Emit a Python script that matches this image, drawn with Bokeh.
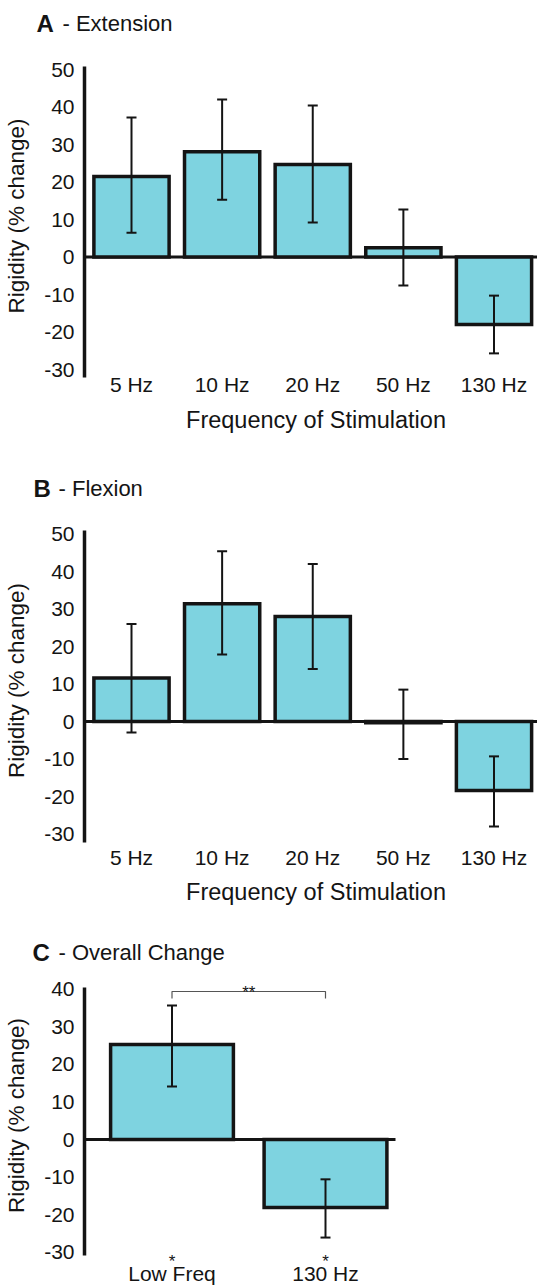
from bokeh.plotting import figure
from bokeh.layouts import column
from bokeh.models import (Range1d, FixedTicker, Whisker, TeeHead, ColumnDataSource,
                          Label, LinearAxis)
from bokeh.embed import file_html
from bokeh.resources import INLINE

# ---------------- data ----------------
freq_labels = ["5 Hz", "10 Hz", "20 Hz", "50 Hz", "130 Hz"]

ext_mean = [21.5, 28.1, 24.7, 2.5, -18.0]
ext_upper = [37.2, 42.0, 40.4, 12.7, -10.3]
ext_lower = [6.5, 15.3, 9.2, -7.6, -25.7]

flex_mean = [11.6, 31.4, 28.0, -0.3, -18.4]
flex_upper = [26.0, 45.4, 42.0, 8.5, -9.3]
flex_lower = [-2.9, 17.9, 14.0, -10.0, -28.0]

overall_labels = ["Low Freq", "130 Hz"]
overall_mean = [25.3, -18.1]
overall_upper = [35.7, -10.6]
overall_lower = [14.1, -26.1]
overall_sig = ["*", "*"]
pair_sig = "**"

y_ticks_ab = [-30, -20, -10, 0, 10, 20, 30, 40, 50]
y_ticks_c = [-30, -20, -10, 0, 10, 20, 30, 40]

panel_titles = [("A", "- Extension"), ("B", "- Flexion"), ("C", "-  Overall Change")]
y_label = "Rigidity (% change)"
x_label = "Frequency of Stimulation"

# ---------------- style ----------------
FONT = "Liberation Sans"
FILL = "#7ed3e0"
INK = "#141414"
W = 537


class Panel:
    """pixel <-> data helper for one stacked panel"""

    def __init__(self, height, x0px, xscale, y0px, yscale):
        self.h, self.x0, self.xs, self.y0, self.ys = height, x0px, xscale, y0px, yscale

    def dx(self, px):
        return (px - self.x0) / self.xs

    def dy(self, py):
        return (self.y0 - py) / self.ys


def make_panel(P, yticks, xticks, xlabels, xlabel, axis_top, axis_bot, xaxis_px,
               xlab_bounds, zero_right, ylab_shift):
    p = figure(width=W, height=P.h,
               x_range=Range1d(P.dx(0), P.dx(W)), y_range=Range1d(P.dy(P.h), P.dy(0)),
               output_backend="svg", toolbar_location=None, tools="",
               x_axis_location=None, y_axis_location=None,
               min_border=0, min_border_left=0, min_border_right=0,
               min_border_top=0, min_border_bottom=0)
    p.outline_line_color = None
    p.background_fill_color = "white"
    p.border_fill_color = "white"
    p.grid.visible = False

    ax_x = P.dx(84)
    ya = LinearAxis(fixed_location=ax_x,
                    bounds=(P.dy(axis_bot), P.dy(axis_top - ylab_shift)))
    ya.ticker = FixedTicker(ticks=yticks)
    ya.major_label_overrides = {t: str(t) for t in yticks}
    ya.axis_line_color = None
    ya.major_tick_line_color = None
    ya.minor_tick_line_color = None
    ya.major_tick_out = 0
    ya.major_tick_in = 0
    ya.major_label_standoff = 10
    ya.major_label_text_font = FONT
    ya.major_label_text_font_size = "21px"
    ya.major_label_text_color = INK
    ya.axis_label = y_label
    ya.axis_label_text_font = FONT
    ya.axis_label_text_font_size = "22.5px"
    ya.axis_label_text_font_style = "normal"
    ya.axis_label_text_color = INK
    ya.axis_label_standoff = 12
    p.add_layout(ya, "left")

    xa = LinearAxis(fixed_location=P.dy(xaxis_px), bounds=xlab_bounds)
    xa.ticker = FixedTicker(ticks=xticks)
    xa.major_label_overrides = {t: lab for t, lab in zip(xticks, xlabels)}
    xa.axis_line_color = None
    xa.major_tick_line_color = None
    xa.minor_tick_line_color = None
    xa.major_tick_out = 0
    xa.major_tick_in = 0
    xa.major_label_standoff = 5
    xa.major_label_text_font = FONT
    xa.major_label_text_font_size = "21px"
    xa.major_label_text_color = INK
    if xlabel:
        xa.axis_label = xlabel
        xa.axis_label_text_font = FONT
        xa.axis_label_text_font_size = "23.5px"
        xa.axis_label_text_font_style = "normal"
        xa.axis_label_text_color = INK
        xa.axis_label_standoff = 7
    p.add_layout(xa, "below")

    # y axis rule
    p.segment(x0=[ax_x], y0=[P.dy(axis_bot)], x1=[ax_x], y1=[P.dy(axis_top)],
              line_color=INK, line_width=3.5)
    # zero line
    p.segment(x0=[ax_x], y0=[0], x1=[P.dx(zero_right)], y1=[0],
              line_color=INK, line_width=3)
    return p


def add_bars(p, means, uppers, lowers, width):
    xs = list(range(len(means)))
    src = ColumnDataSource(dict(x=xs, top=means, upper=uppers, lower=lowers))
    p.vbar(x="x", top="top", bottom=0, width=width, source=src,
           fill_color=FILL, line_color=INK, line_width=3.5, line_join="miter")
    w = Whisker(source=src, base="x", upper="upper", lower="lower",
                line_color=INK, line_width=2, level="overlay",
                upper_head=TeeHead(size=10, line_color=INK, line_width=2),
                lower_head=TeeHead(size=10, line_color=INK, line_width=2))
    p.add_layout(w)


def add_title(p, P, letter, rest, px_letter, px_rest, py):
    p.add_layout(Label(x=P.dx(px_letter), y=P.dy(py), text=letter, text_font=FONT,
                       text_font_size="24px", text_font_style="bold",
                       text_color=INK, text_baseline="middle", text_align="left"))
    p.add_layout(Label(x=P.dx(px_rest), y=P.dy(py), text=rest, text_font=FONT,
                       text_font_size="22px", text_color=INK,
                       text_baseline="middle", text_align="left"))


x5 = list(range(len(freq_labels)))
x2 = list(range(len(overall_labels)))

# ---------------- panel A ----------------
PA = Panel(462, 131, 90.625, 256.5, 3.75)
pA = make_panel(PA, y_ticks_ab, x5, freq_labels, x_label, 66, 377, 367.5,
                (PA.dx(84 + 10), PA.dx(537)), 537, 12)
add_bars(pA, ext_mean, ext_upper, ext_lower, 0.83)
add_title(pA, PA, panel_titles[0][0], panel_titles[0][1], 36, 62, 23)

# ---------------- panel B ----------------
PB = Panel(463, 131, 90.625, 259, 3.75)
pB = make_panel(PB, y_ticks_ab, x5, freq_labels, x_label, 68, 380, 378,
                (PB.dx(84 + 10), PB.dx(537)), 537, 12)
add_bars(pB, flex_mean, flex_upper, flex_lower, 0.83)
add_title(pB, PB, panel_titles[1][0], panel_titles[1][1], 33, 58, 26)

# ---------------- panel C ----------------
PC = Panel(361, 171.5, 153.5, 214, 3.757)
pC = make_panel(PC, y_ticks_c, x2, overall_labels, None, 62, 330, 331,
                (PC.dx(84), PC.dx(395)), 395, 12)
add_bars(pC, overall_mean, overall_upper, overall_lower, 0.80)
add_title(pC, PC, panel_titles[2][0], panel_titles[2][1], 32, 58, 27)

# significance bracket between the two bars
pC.line(x=[x2[0], x2[0], x2[1], x2[1]], y=[PC.dy(73), PC.dy(66), PC.dy(66), PC.dy(73)],
        line_color="#555555", line_width=1.2)
pC.add_layout(Label(x=(x2[0] + x2[1]) / 2, y=PC.dy(67), text=pair_sig, text_font=FONT,
                    text_font_size="17px", text_color=INK, text_align="center",
                    text_baseline="alphabetic"))
for xi, s in zip(x2, overall_sig):
    pC.add_layout(Label(x=xi, y=PC.dy(336), text=s, text_font=FONT, text_font_size="17px",
                        text_color=INK, text_align="center", text_baseline="alphabetic"))

layout = column(pA, pB, pC, spacing=0)
open("out.html", "w").write(file_html(layout, INLINE))
